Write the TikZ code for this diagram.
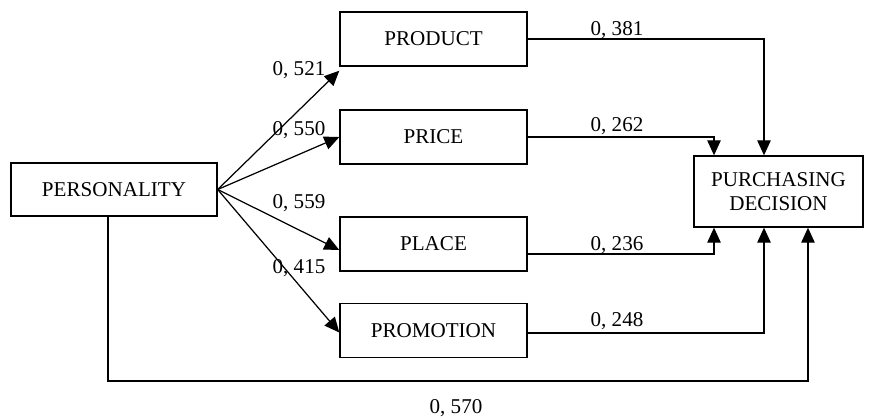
\documentclass[tikz,border=0pt]{standalone}
\usepackage{fontspec}
\setmainfont{Liberation Serif}
\usetikzlibrary{arrows.meta}
\tikzset{
  box/.style={draw, line width=0.8pt, inner sep=0pt, align=center, font=\fontsize{12}{14}\selectfont},
  lbl/.style={font=\fontsize{12}{14}\selectfont, inner sep=0pt},
  arr/.style={line width=0.7pt, -{Triangle[length=0.3cm,width=0.27cm]}}
}
\begin{document}
\begin{tikzpicture}[x=0.02cm,y=-0.02cm]
        \useasboundingbox (0,0) rectangle (869,419);

        % Boxes
        \node[box, minimum width=4.12cm, minimum height=1.06cm] (pers) at (114,189.5) {PERSONALITY};
        \node[box, minimum width=3.74cm, minimum height=1.08cm] (prod) at (433.5,39) {PRODUCT};
        \node[box, minimum width=3.74cm, minimum height=1.08cm] (price) at (433.5,137) {PRICE};
        \node[box, minimum width=3.74cm, minimum height=1.08cm] (place) at (433.5,244) {PLACE};
        \node[box, minimum width=3.74cm, minimum height=1.08cm] (promo) at (433.5,330.5) {PROMOTION};
        \node[box, minimum width=3.38cm, minimum height=1.42cm] (decision) at (778.5,191.5) {PURCHASING\\DECISION};

        % Personality to the four P
        \draw[arr] (pers.east) -- ([yshift=-0.08cm]prod.south west);
        \draw[arr] (pers.east) -- (price.west);
        \draw[arr] (pers.east) -- ([yshift=-0.12cm]place.west);
        \draw[arr] (pers.east) -- ([yshift=-0.04cm]promo.west);

        % Four P to decision
        \draw[arr] (prod.east) -| ([xshift=-0.29cm]decision.north);
        \draw[arr] (price.east) -| ([xshift=-1.29cm]decision.north);
        \draw[arr] ([yshift=-0.2cm]place.east) -| ([xshift=-1.29cm]decision.south);
        \draw[arr] ([yshift=-0.05cm]promo.east) -| ([xshift=-0.29cm]decision.south);

        % Direct path
        \coordinate (low) at (108,381);
        \draw[arr] (pers.south -| low) -- (low) -| ([xshift=0.59cm]decision.south);

        % Coefficients
        \node[lbl] (c1) at (299,70) {0, 521};
        \node[lbl] (c2) at (299,130) {0, 550};
        \node[lbl] (c3) at (299,203) {0, 559};
        \node[lbl] (c4) at (299,268) {0, 415};
        \node[lbl] (c5) at (617,30) {0, 381};
        \node[lbl] (c6) at (617,126) {0, 262};
        \node[lbl] (c7) at (617,245) {0, 236};
        \node[lbl] (c8) at (617,321) {0, 248};
        \node[lbl] (c9) at (456,408) {0, 570};
    \end{tikzpicture}
\end{document}
